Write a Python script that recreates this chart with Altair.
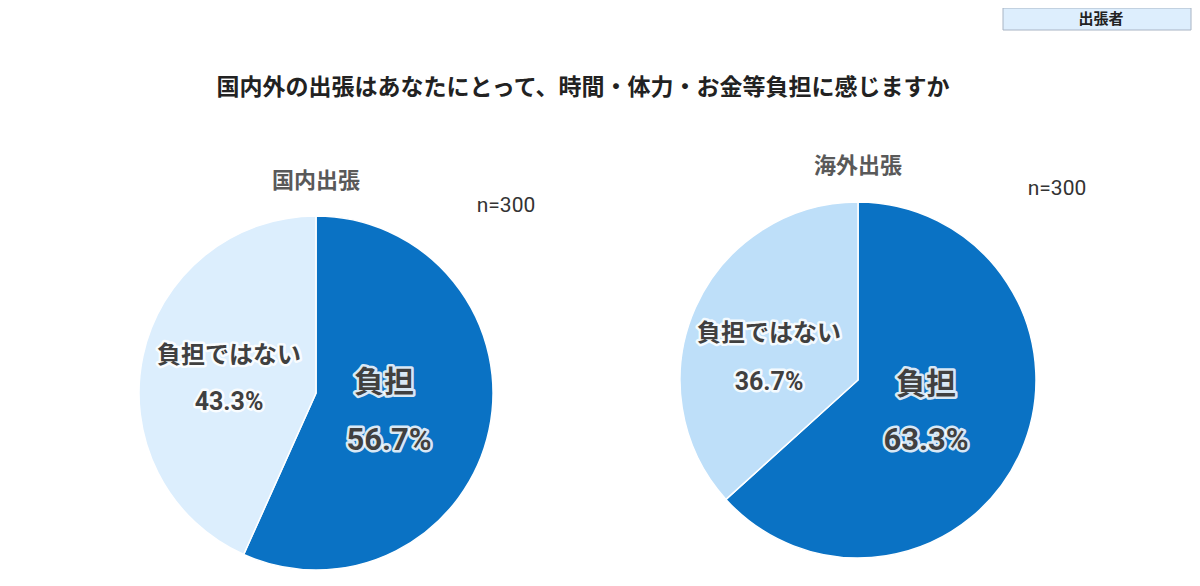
import altair as alt
import pandas as pd

# ---- data ----
categories = ["負担", "負担ではない"]
domestic_values = [56.7, 43.3]
overseas_values = [63.3, 36.7]
panel_titles = ["国内出張", "海外出張"]
sample_label = "n=300"
main_title = "国内外の出張はあなたにとって、時間・体力・お金等負担に感じますか"
badge_label = "出張者"

FONT = "Roboto, 'Noto Sans CJK JP'"
DARK = "#0A72C4"
LIGHT_DOM = "#DCEEFD"
LIGHT_OVS = "#BEDFF9"
TEXT = "#404040"


def pie_df(values):
    return pd.DataFrame({
        "cat": categories,
        "value": values,
        "ord": list(range(len(categories))),
        "pct": [f"{v:.1f}%" for v in values],
    })


def pie(df, cx, cy, r, light):
    return alt.Chart(df).mark_arc(outerRadius=r, stroke="white", strokeWidth=1.5).encode(
        theta=alt.Theta("value:Q", stack=True),
        order=alt.Order("ord:Q"),
        color=alt.Color("cat:N", scale=alt.Scale(domain=categories, range=[DARK, light]), legend=None),
        x=alt.value(cx),
        y=alt.value(cy),
    )


def text_layers(chart, field, x, y, size, weight="bold", color=TEXT, halo=False):
    layers = []
    enc = dict(text=alt.Text(f"{field}:N"), x=alt.value(x), y=alt.value(y))
    if halo:
        layers.append(chart.mark_text(font=FONT, fontSize=size, fontWeight=weight, align="center",
                                      baseline="middle", fill="white", stroke="white",
                                      strokeWidth=5, strokeOpacity=0.85, strokeJoin="round").encode(**enc))
    layers.append(chart.mark_text(font=FONT, fontSize=size, fontWeight=weight, align="center",
                                  baseline="middle", fill=color).encode(**enc))
    return layers


def static_text(txt, x, y, size, weight="bold", color="#333333"):
    return text_layers(alt.Chart(pd.DataFrame({"t": [txt]})), "t", x, y, size, weight, color)


dom = pie_df(domestic_values)
ovs = pie_df(overseas_values)

layers = []

# badge box
layers.append(alt.Chart(pd.DataFrame({"t": [badge_label]})).mark_rect(
    fill="#DDEEFD", stroke="#A8B4C4", strokeWidth=1).encode(
    x=alt.value(995), x2=alt.value(1183), y=alt.value(0), y2=alt.value(22)))
layers += static_text(badge_label, 1093, 11, 15, "bold", "#222222")

# title
layers += static_text(main_title, 575, 80, 23, "bold", "#222222")

# pies
layers.append(pie(dom, 308, 385, 177, LIGHT_DOM))
layers.append(pie(ovs, 850, 372, 178, LIGHT_OVS))

# panel titles and n
layers += static_text(panel_titles[0], 308, 173, 22, "bold", "#595959")
layers += static_text(panel_titles[1], 850, 158, 22, "bold", "#595959")
layers += static_text(sample_label, 498, 198, 21, "normal", "#333333")
layers += static_text(sample_label, 1049, 181, 21, "normal", "#333333")


def pie_labels(df, cat, name_xy, pct_xy, size, pct_size):
    base = alt.Chart(df).transform_filter(alt.datum.cat == cat)
    out = text_layers(base, "cat", name_xy[0], name_xy[1], size, "bold", TEXT, halo=True)
    out += text_layers(base, "pct", pct_xy[0], pct_xy[1], pct_size, "bold", TEXT, halo=True)
    return out


layers += pie_labels(dom, categories[1], (221, 348), (221, 394), 24, 25)
layers += pie_labels(dom, categories[0], (376, 375), (381, 433), 30, 31)
layers += pie_labels(ovs, categories[1], (761, 326), (761, 374), 24, 25)
layers += pie_labels(ovs, categories[0], (918, 377), (918, 433), 30, 31)

chart = alt.layer(*layers).resolve_scale(
    color="independent", theta="independent"
).properties(
    width=1184, height=570, padding=0,
    autosize=alt.AutoSizeParams(type="none"),
).configure_view(strokeWidth=0)

chart.save("out.html", embed_options={"renderer": "svg", "actions": False})
